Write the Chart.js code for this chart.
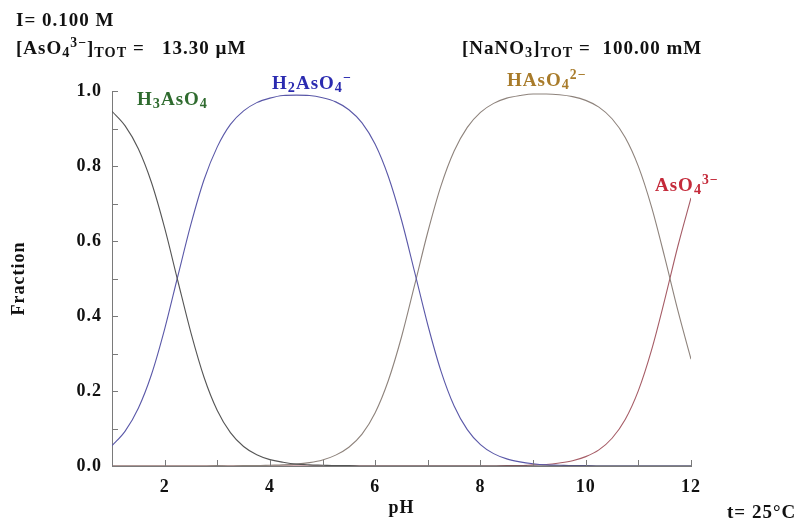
<!DOCTYPE html>
<html>
<head>
<meta charset="utf-8">
<script src="https://cdn.jsdelivr.net/npm/chart.js@4.4.1/dist/chart.umd.min.js"></script>
<style>
  html, body { margin: 0; padding: 0; background: #fff; }
  #wrap { position: relative; width: 803px; height: 521px; overflow: hidden;
          font-family: "Liberation Serif", "Times New Roman", serif; font-weight: bold; }
  #myChart { position: absolute; left: 0; top: 0; }
  .lbl { position: absolute; white-space: pre; font-size: 19px; line-height: 1; letter-spacing: 1px; color: #111; }
  .lbl sub { font-size: 0.75em; vertical-align: -0.2em; line-height: 0; }
  .lbl sup { font-size: 0.72em; vertical-align: 0.5em; line-height: 0; }
</style>
</head>
<body>
<div id="wrap">
  <canvas id="myChart" width="803" height="521"></canvas>
  <div class="lbl" style="left:16px; top:10px;">I= 0.100 M</div>
  <div class="lbl" style="left:16px; top:38px;">[AsO<sub>4</sub><sup>3−</sup>]<sub>TOT</sub> =   13.30 µM</div>
  <div class="lbl" style="left:462px; top:38px;">[NaNO<sub>3</sub>]<sub>TOT</sub> =  100.00 mM</div>
  <div class="lbl" style="left:137px; top:89px; color:#2f6b2f;">H<sub>3</sub>AsO<sub>4</sub></div>
  <div class="lbl" style="left:272px; top:73px; color:#2b2bb0;">H<sub>2</sub>AsO<sub>4</sub><sup>−</sup></div>
  <div class="lbl" style="left:507px; top:70px; color:#a87b2a;">HAsO<sub>4</sub><sup>2−</sup></div>
  <div class="lbl" style="left:655px; top:175px; color:#c42a3a;">AsO<sub>4</sub><sup>3−</sup></div>
  <div class="lbl" style="left:727px; top:502px;">t= 25°C</div>
</div>
<script>
// pH values along the x axis
var pH = [1, 1.25, 1.5, 1.75, 2, 2.25, 2.5, 2.75, 3, 3.25, 3.5, 3.75, 4, 4.25, 4.5, 4.75,
          5, 5.25, 5.5, 5.75, 6, 6.25, 6.5, 6.75, 7, 7.25, 7.5, 7.75, 8, 8.25, 8.5, 8.75,
          9, 9.25, 9.5, 9.75, 10, 10.25, 10.5, 10.75, 11, 11.25, 11.5, 11.75, 12];

// fraction of each species
var H3AsO4 = [0.946, 0.907, 0.846, 0.756, 0.635, 0.494, 0.355, 0.236, 0.148, 0.089, 0.052, 0.030, 0.017, 0.010, 0.005, 0.003,
              0.002, 0.001, 0.001, 0, 0, 0, 0, 0, 0, 0, 0, 0, 0, 0, 0, 0,
              0, 0, 0, 0, 0, 0, 0, 0, 0, 0, 0, 0, 0];
var H2AsO4 = [0.054, 0.093, 0.154, 0.244, 0.365, 0.506, 0.645, 0.764, 0.851, 0.911, 0.947, 0.969, 0.981, 0.988, 0.989, 0.988,
              0.982, 0.971, 0.950, 0.915, 0.858, 0.772, 0.656, 0.517, 0.376, 0.253, 0.160, 0.097, 0.057, 0.033, 0.019, 0.011,
              0.006, 0.003, 0.002, 0.001, 0.001, 0, 0, 0, 0, 0, 0, 0, 0];
var HAsO4 = [0, 0, 0, 0, 0, 0, 0, 0, 0.001, 0, 0.001, 0.001, 0.002, 0.003, 0.005, 0.009,
             0.016, 0.029, 0.050, 0.085, 0.142, 0.228, 0.344, 0.483, 0.624, 0.747, 0.840, 0.903, 0.943, 0.967, 0.981, 0.988,
             0.992, 0.992, 0.990, 0.985, 0.975, 0.957, 0.926, 0.876, 0.799, 0.691, 0.557, 0.415, 0.285];
var AsO4 = [0, 0, 0, 0, 0, 0, 0, 0, 0, 0, 0, 0, 0, 0, 0, 0,
            0, 0, 0, 0, 0, 0, 0, 0, 0, 0, 0, 0, 0, 0, 0.001, 0.001,
            0.003, 0.004, 0.008, 0.014, 0.025, 0.043, 0.074, 0.124, 0.201, 0.309, 0.443, 0.586, 0.715];

var xTickLabels = [2, 4, 6, 8, 10, 12];

function toPoints(values) {
  return values.map(function (v, i) { return { x: pH[i], y: v }; });
}

var serif = '"Liberation Serif", "Times New Roman", serif';

// spaced-out glyphs like the original program
var spacing = {
  id: 'spacing',
  beforeLayout: function (chart) { chart.ctx.letterSpacing = '1px'; },
  beforeDraw: function (chart) { chart.ctx.letterSpacing = '1px'; }
};

// short ticks drawn inside the plot
var innerTicks = {
  id: 'innerTicks',
  afterDatasetsDraw: function (chart) {
    var ctx = chart.ctx, x = chart.scales.x, y = chart.scales.y;
    ctx.save();
    ctx.strokeStyle = '#7a7a7a';
    ctx.lineWidth = 1;
    ctx.beginPath();
    x.ticks.forEach(function (t) {
      var px = Math.round(x.getPixelForValue(t.value)) + 0.5;
      ctx.moveTo(px, y.bottom);
      ctx.lineTo(px, y.bottom - 6);
    });
    y.ticks.forEach(function (t) {
      var py = Math.round(y.getPixelForValue(t.value)) + 0.5;
      ctx.moveTo(x.left, py);
      ctx.lineTo(x.left + 6, py);
    });
    ctx.stroke();
    ctx.restore();
  }
};

function line(label, values, color) {
  return {
    label: label,
    data: toPoints(values),
    borderColor: color,
    borderWidth: 1.1,
    pointRadius: 0,
    fill: false,
    cubicInterpolationMode: 'monotone'
  };
}

var ctx = document.getElementById('myChart').getContext('2d');
var myChart = new Chart(ctx, {
  type: 'line',
  data: {
    datasets: [
      line('H3AsO4', H3AsO4, '#555555'),
      line('H2AsO4-', H2AsO4, '#5a58a8'),
      line('HAsO4 2-', HAsO4, '#8e837c'),
      line('AsO4 3-', AsO4, '#a65c66')
    ]
  },
  options: {
    responsive: false,
    animation: false,
    layout: { padding: { left: 0, top: 91, right: 112, bottom: 0 } },
    plugins: { legend: { display: false }, tooltip: { enabled: false } },
    scales: {
      x: {
        type: 'linear',
        min: 1,
        max: 12,
        afterFit: function (s) { s.height = 55; },
        grid: { display: false, drawTicks: false },
        border: { display: true, color: '#7a7a7a', width: 1 },
        ticks: {
          stepSize: 1,
          autoSkip: false,
          maxRotation: 0,
          padding: 11,
          color: '#111',
          font: { family: serif, size: 18, weight: 'bold' },
          callback: function (v) { return xTickLabels.indexOf(v) >= 0 ? String(v) : ''; }
        },
        title: {
          display: true,
          text: 'pH',
          color: '#111',
          padding: { top: 0, bottom: 2 },
          font: { family: serif, size: 18, weight: 'bold' }
        }
      },
      y: {
        min: 0,
        max: 1,
        afterFit: function (s) { s.width = 112; },
        grid: { display: false, drawTicks: false },
        border: { display: true, color: '#7a7a7a', width: 1 },
        ticks: {
          stepSize: 0.1,
          autoSkip: false,
          padding: 10,
          color: '#111',
          font: { family: serif, size: 18, weight: 'bold' },
          callback: function (v) {
            var k = Math.round(v * 10);
            return k % 2 === 0 ? (k / 10).toFixed(1) : '';
          }
        },
        title: {
          display: true,
          text: 'Fraction',
          color: '#111',
          padding: { top: 9, bottom: 0 },
          font: { family: serif, size: 18, weight: 'bold' }
        }
      }
    }
  },
  plugins: [spacing, innerTicks]
});
</script>
</body>
</html>
